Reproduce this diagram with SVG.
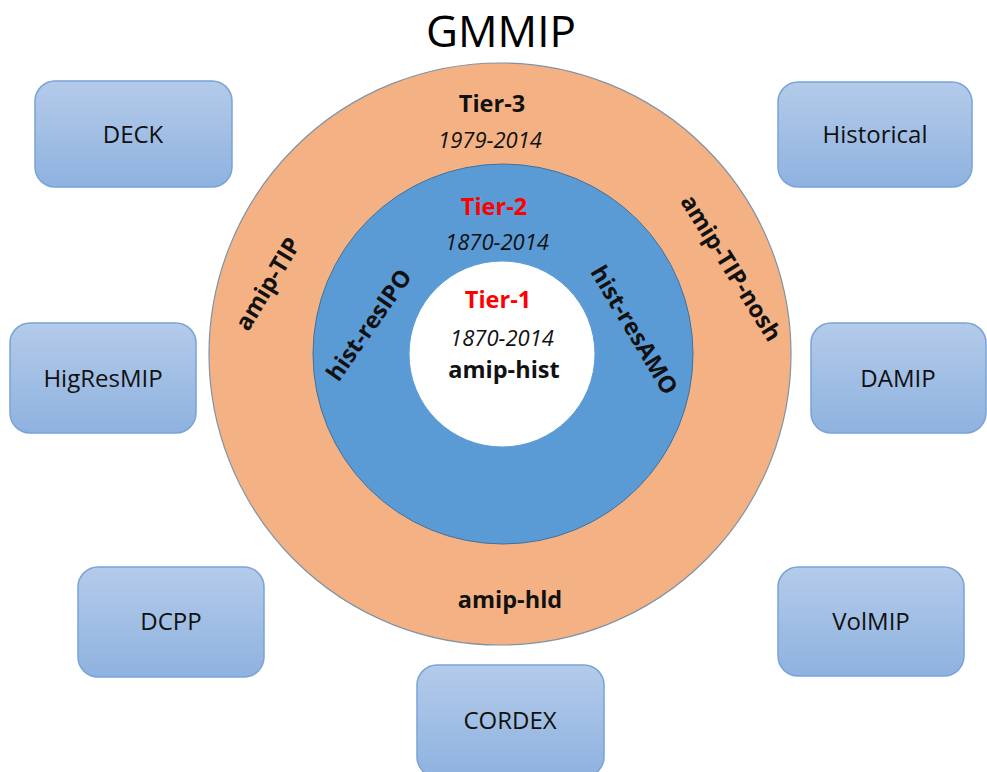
<svg xmlns="http://www.w3.org/2000/svg" width="987" height="772" viewBox="0 0 987 772">
<defs>
<linearGradient id="bg" x1="0" y1="0" x2="0" y2="1">
<stop offset="0" stop-color="#b4cbea"/>
<stop offset="1" stop-color="#8eb2df"/>
</linearGradient>
</defs>
<style>
.box{fill:url(#bg);stroke:#7aa3d8;stroke-width:1.5}
.bl{font-family:"Open Sans","Liberation Sans",sans-serif;font-size:24px;fill:#111;text-anchor:middle}
.b{font-family:"Open Sans","Liberation Sans",sans-serif;font-size:23.5px;font-weight:bold;fill:#111;text-anchor:middle}
.i{font-family:"Open Sans","Liberation Sans",sans-serif;font-size:22px;font-style:italic;fill:#111;text-anchor:middle}
.r{fill:#ff0000}
</style>
<rect width="987" height="772" fill="#ffffff"/>
<text x="501" y="47" font-family="Open Sans, Liberation Sans, sans-serif" font-size="44" fill="#000" text-anchor="middle">GMMIP</text>
<g id="rings">
<circle cx="500" cy="354" r="291" fill="#f4b183" stroke="#7f93a6" stroke-width="1.2"/>
<circle cx="503" cy="354" r="190" fill="#5b9bd5" stroke="#41719c" stroke-width="1"/>
<circle cx="502" cy="354" r="93" fill="#ffffff" stroke="#5b9bd5" stroke-width="1"/>
</g>
<g id="tier3">
<text class="b" x="492" y="112">Tier-3</text>
<text class="i" x="490" y="148">1979-2014</text>
<text class="b" transform="translate(268,284) rotate(-59)" y="8">amip-TIP</text>
<text class="b" transform="translate(731,268) rotate(58)" y="8">amip-TIP-nosh</text>
<text class="b" x="510" y="608">amip-hld</text>
</g>
<g id="tier2">
<text class="b r" x="494" y="215">Tier-2</text>
<text class="i" x="497" y="250">1870-2014</text>
<text class="b" transform="translate(369,325) rotate(-55)" y="8">hist-resIPO</text>
<text class="b" transform="translate(634,330) rotate(59)" y="8">hist-resAMO</text>
</g>
<g id="tier1">
<text class="b r" x="498" y="308">Tier-1</text>
<text class="i" x="502" y="346">1870-2014</text>
<text class="b" x="504" y="378">amip-hist</text>
</g>
<g id="DECK"><rect class="box" x="35" y="81" width="197" height="106" rx="20"/><text class="bl" x="133" y="143">DECK</text></g>
<g id="Historical"><rect class="box" x="778" y="82" width="194" height="105" rx="20"/><text class="bl" x="875" y="143">Historical</text></g>
<g id="HigResMIP"><rect class="box" x="10" y="323" width="186" height="110" rx="20"/><text class="bl" x="103" y="387">HigResMIP</text></g>
<g id="DAMIP"><rect class="box" x="811" y="323" width="175" height="110" rx="20"/><text class="bl" x="898" y="387">DAMIP</text></g>
<g id="DCPP"><rect class="box" x="78" y="567" width="186" height="110" rx="20"/><text class="bl" x="171" y="630">DCPP</text></g>
<g id="VolMIP"><rect class="box" x="778" y="567" width="186" height="109" rx="20"/><text class="bl" x="871" y="630">VolMIP</text></g>
<g id="CORDEX"><rect class="box" x="417" y="665" width="187" height="112" rx="20"/><text class="bl" x="510" y="729">CORDEX</text></g>
<g id="connectors"></g>
</svg>
